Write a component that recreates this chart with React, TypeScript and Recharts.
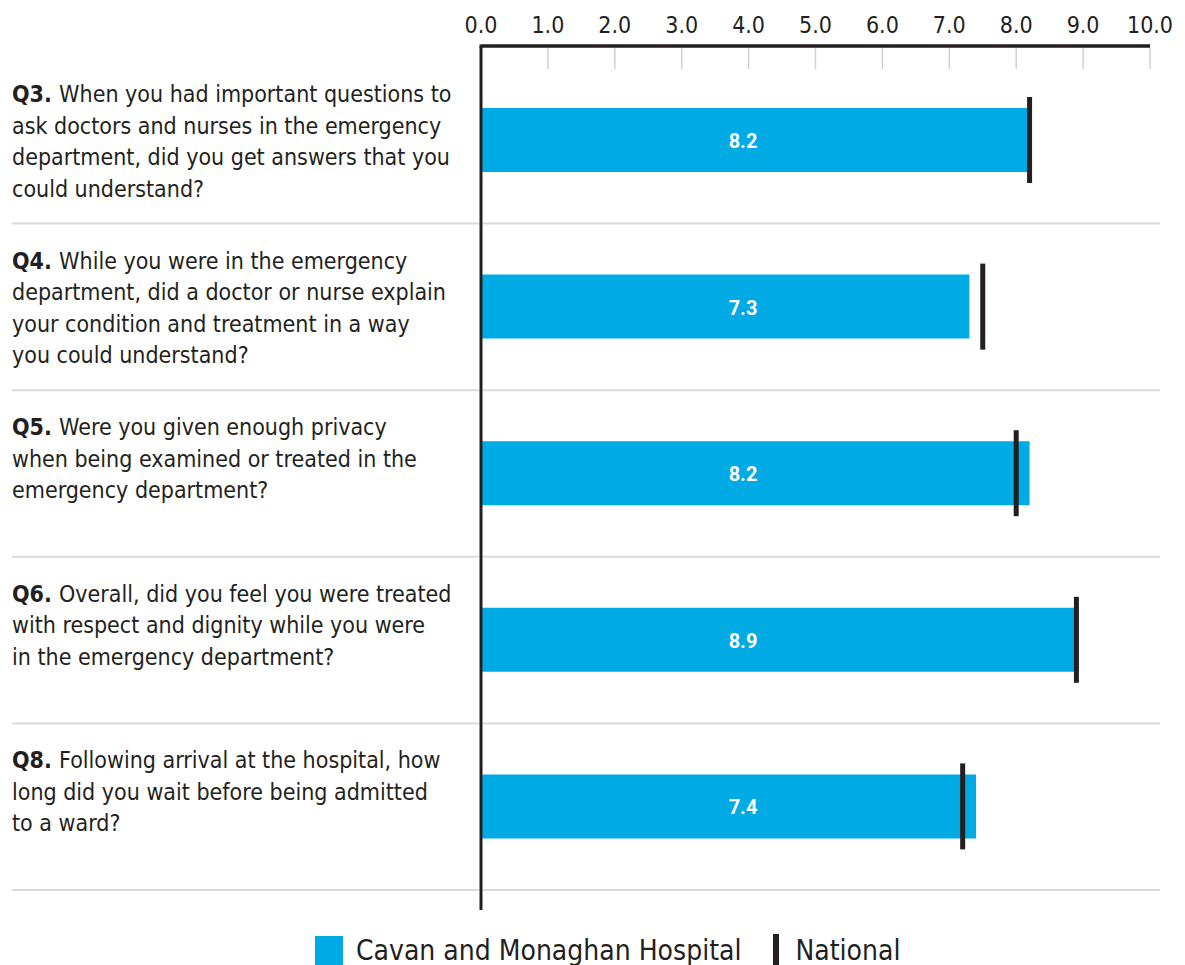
import { Bar, BarChart, LabelList, Legend, XAxis, YAxis } from 'recharts'

const QUESTIONS = ['Q3.', 'Q4.', 'Q5.', 'Q6.', 'Q8.']
const QUESTION_TEXT = [
  [
    'When you had important questions to',
    'ask doctors and nurses in the emergency',
    'department, did you get answers that you',
    'could understand?',
  ],
  [
    'While you were in the emergency',
    'department, did a doctor or nurse explain',
    'your condition and treatment in a way',
    'you could understand?',
  ],
  ['Were you given enough privacy', 'when being examined or treated in the', 'emergency department?'],
  ['Overall, did you feel you were treated', 'with respect and dignity while you were', 'in the emergency department?'],
  ['Following arrival at the hospital, how', 'long did you wait before being admitted', 'to a ward?'],
]
const HOSPITAL = [8.2, 7.3, 8.2, 8.9, 7.4]
const NATIONAL = [8.2, 7.5, 8.0, 8.9, 7.2]
const X_TICKS = [0, 1, 2, 3, 4, 5, 6, 7, 8, 9, 10]
const SERIES_NAMES = ['Cavan and Monaghan Hospital', 'National']

const COLORS = {
  bar: '#00aae4',
  ink: '#231f20',
  rule: '#d9d9d9',
  tick: '#d0d0d0',
}
const FONT = '"Liberation Sans Narrow", "DejaVu Sans Condensed", "Roboto Condensed", sans-serif'

const W = 1185
const H = 965
const MARGIN = { top: 0, right: 35, bottom: 55, left: 0 }
const AXIS_TOP = 46
const PLOT_LEFT = 481
const PAD = { top: 11, bottom: 20 }
const BAND = (H - MARGIN.bottom - AXIS_TOP - PAD.top - PAD.bottom) / QUESTIONS.length

const data = QUESTIONS.map((q, i) => ({ q, hospital: HOSPITAL[i], national: NATIONAL[i] }))

function QuestionTick(props: any) {
  const { y, payload } = props
  const i = QUESTIONS.indexOf(payload.value)
  const lines = QUESTION_TEXT[i] ?? []
  const top = y - BAND / 2
  const ruleY = y + BAND / 2
  return (
    <g>
      <text fontFamily={FONT} fontSize={23} fill={COLORS.ink}>
        {lines.map((line, k) => (
          <tspan key={k} x={12} y={top + 37 + k * 31.5 + 8}>
            {k === 0 && <tspan fontWeight="bold">{payload.value} </tspan>}
            {line}
          </tspan>
        ))}
      </text>
      <line x1={12} x2={PLOT_LEFT - 2} y1={ruleY} y2={ruleY} stroke={COLORS.rule} strokeWidth={2} />
      <line x1={PLOT_LEFT + 2} x2={1160} y1={ruleY} y2={ruleY} stroke={COLORS.rule} strokeWidth={2} />
    </g>
  )
}

function ScaleTick(props: any) {
  const { x, payload } = props
  const isLast = payload.value === X_TICKS[X_TICKS.length - 1]
  return (
    <g>
      <text x={x} y={33} textAnchor="middle" fontFamily={FONT} fontSize={23} fill={COLORS.ink}>
        {Number(payload.value).toFixed(1)}
      </text>
      {payload.value > 0 && (
        <line x1={x} x2={x} y1={AXIS_TOP + 2} y2={69} stroke={COLORS.tick} strokeWidth={1.5} />
      )}
      {/* top rule, in case the axis line gets lost */}
      {isLast && (
        <line x1={PLOT_LEFT - 1.5} x2={x} y1={AXIS_TOP} y2={AXIS_TOP} stroke={COLORS.ink} strokeWidth={3} />
      )}
    </g>
  )
}

function ValueLabel(props: any) {
  const { x, y, height, value } = props
  return (
    <text
      x={x + 262}
      y={y + height / 2 + 8}
      textAnchor="middle"
      fill="#fff"
      fontWeight="bold"
      fontSize={20}
      fontFamily="Roboto, sans-serif"
    >
      {Number(value).toFixed(1)}
    </text>
  )
}

function NationalMark(props: any) {
  const { x, y, width, height } = props
  return <rect x={x + width - 2.5} y={y - 11} width={5} height={height + 22} fill={COLORS.ink} />
}

function LegendContent() {
  return (
    <div
      style={{
        display: 'flex',
        alignItems: 'center',
        paddingLeft: 315,
        fontFamily: FONT,
        fontSize: 28,
        color: COLORS.ink,
      }}
    >
      <span style={{ width: 28, height: 29, background: COLORS.bar, marginRight: 13 }} />
      <span style={{ marginRight: 32 }}>{SERIES_NAMES[0]}</span>
      <span style={{ width: 6, height: 33, background: COLORS.ink, marginRight: 16 }} />
      <span>{SERIES_NAMES[1]}</span>
    </div>
  )
}

export default function App() {
  return (
    <div style={{ position: 'absolute', left: 0, top: 0, width: W, height: H, background: '#fff' }}>
      <BarChart width={W} height={H} data={data} layout="vertical" margin={MARGIN}>
        <YAxis yAxisId="nat" type="category" dataKey="q" hide padding={PAD} />
        <Bar dataKey="hospital" fill={COLORS.bar} barSize={64} isAnimationActive={false}>
          <LabelList dataKey="hospital" content={<ValueLabel />} />
        </Bar>
        <Bar
          dataKey="national"
          yAxisId="nat"
          barSize={64}
          shape={<NationalMark />}
          isAnimationActive={false}
        />
        <XAxis
          type="number"
          orientation="top"
          domain={[0, 10]}
          ticks={X_TICKS}
          height={AXIS_TOP}
          axisLine={{ stroke: COLORS.ink, strokeWidth: 3 }}
          tickLine={false}
          tick={<ScaleTick />}
          interval={0}
        />
        <YAxis
          type="category"
          dataKey="q"
          width={PLOT_LEFT}
          padding={PAD}
          axisLine={{ stroke: COLORS.ink, strokeWidth: 3 }}
          tickLine={false}
          tick={<QuestionTick />}
          interval={0}
        />
        <Legend
          layout="horizontal"
          verticalAlign="middle"
          align="center"
          content={<LegendContent />}
          wrapperStyle={{ top: 934, left: 0, width: W }}
        />
      </BarChart>
    </div>
  )
}
